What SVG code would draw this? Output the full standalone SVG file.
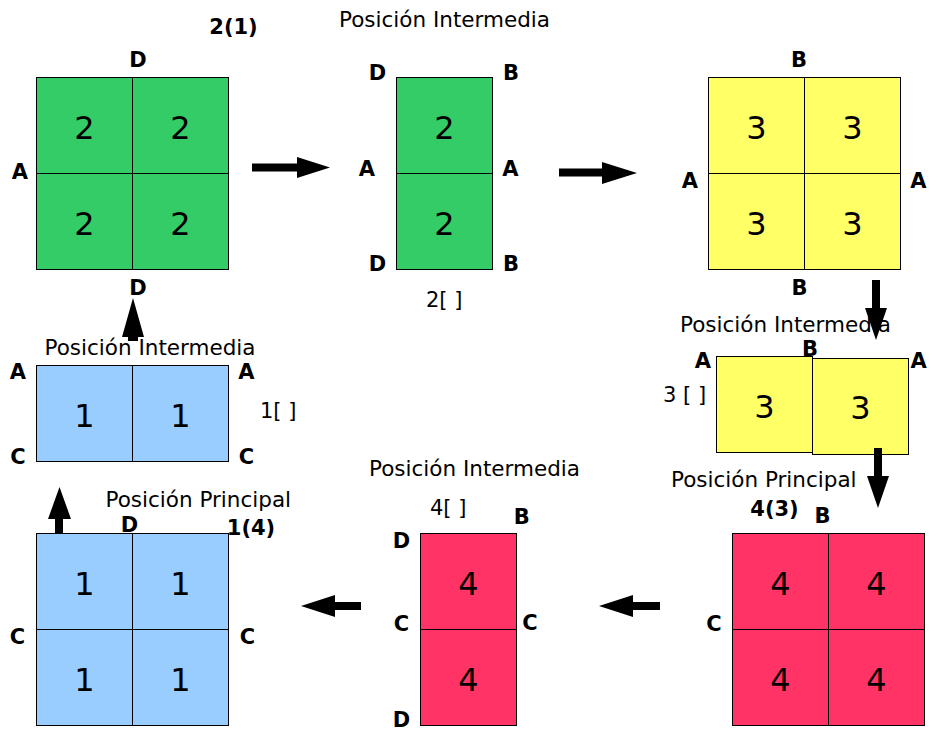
<svg xmlns="http://www.w3.org/2000/svg" width="939" height="740" viewBox="0 0 939 740">
<style>
text{font-family:"DejaVu Sans","Liberation Sans",sans-serif;fill:#000}
.b{font-weight:bold;font-size:21px;text-anchor:middle}
.l{font-size:21.5px}
.s{font-size:21px}
.d{font-size:32px;text-anchor:middle}
rect,line{stroke:#000;stroke-width:1}
.g{fill:#33CC66}.y{fill:#FFFF66}.r{fill:#FF3366}.u{fill:#99CCFF}
.a{fill:#000;stroke:none}
</style>
<rect width="939" height="740" fill="#fff" style="stroke:none"/>
<g id="n2">
<rect class="g" x="36.5" y="77.5" width="192" height="192"/>
<line x1="132.5" y1="77.5" x2="132.5" y2="269.5"/><line x1="36.5" y1="173.5" x2="228.5" y2="173.5"/>
<text class="d" x="84.5" y="138.5">2</text><text class="d" x="180.5" y="138.5">2</text>
<text class="d" x="84.5" y="234.5">2</text><text class="d" x="180.5" y="234.5">2</text>
<text class="b" x="233.5" y="33.5">2(1)</text>
<text class="b" x="138" y="67">D</text>
<text class="b" x="20" y="179">A</text>
<text class="b" x="138" y="295">D</text>
</g>
<g id="n2i">
<rect class="g" x="396.5" y="77.5" width="96" height="192"/>
<line x1="396.5" y1="173.5" x2="492.5" y2="173.5"/>
<text class="d" x="444.5" y="138.5">2</text><text class="d" x="444.5" y="234.5">2</text>
<text class="l" x="339" y="27">Posición Intermedia</text>
<text class="b" x="377.5" y="80">D</text><text class="b" x="511" y="80">B</text>
<text class="b" x="367" y="176">A</text><text class="b" x="510.5" y="176">A</text>
<text class="b" x="377.5" y="271">D</text><text class="b" x="511" y="271">B</text>
<text class="s" x="426" y="307">2[ ]</text>
</g>
<g id="n3">
<rect class="y" x="708.5" y="77.5" width="192" height="192"/>
<line x1="804.5" y1="77.5" x2="804.5" y2="269.5"/><line x1="708.5" y1="173.5" x2="900.5" y2="173.5"/>
<text class="d" x="756.5" y="138.5">3</text><text class="d" x="852.5" y="138.5">3</text>
<text class="d" x="756.5" y="234.5">3</text><text class="d" x="852.5" y="234.5">3</text>
<text class="b" x="799" y="67">B</text>
<text class="b" x="690" y="188">A</text><text class="b" x="918.5" y="188">A</text>
<text class="b" x="799.5" y="295">B</text>
</g>
<g id="n3i">
<rect class="y" x="716.5" y="356.5" width="96" height="96"/>
<rect class="y" x="812.5" y="358.5" width="96" height="96"/>
<text class="d" x="764.5" y="417.5">3</text><text class="d" x="860.5" y="418.5">3</text>
<text class="l" x="680" y="331.5">Posición Intermedia</text>
<text class="b" x="810" y="356">B</text>
<text class="b" x="703" y="368">A</text><text class="b" x="918.7" y="368">A</text>
<text class="s" x="663" y="402">3 [ ]</text>
</g>
<g id="n4">
<rect class="r" x="732.5" y="533.5" width="192" height="192"/>
<line x1="828.5" y1="533.5" x2="828.5" y2="725.5"/><line x1="732.5" y1="629.5" x2="924.5" y2="629.5"/>
<text class="d" x="780.5" y="594.5">4</text><text class="d" x="876.5" y="594.5">4</text>
<text class="d" x="780.5" y="690.5">4</text><text class="d" x="876.5" y="690.5">4</text>
<text class="l" x="671" y="487">Posición Principal</text>
<text class="b" x="774.5" y="516">4(3)</text>
<text class="b" x="822.5" y="523">B</text>
<text class="b" x="714" y="631">C</text>
</g>
<g id="n4i">
<rect class="r" x="420.5" y="533.5" width="96" height="192"/>
<line x1="420.5" y1="629.5" x2="516.5" y2="629.5"/>
<text class="d" x="468.5" y="594.5">4</text><text class="d" x="468.5" y="690.5">4</text>
<text class="l" x="369" y="476">Posición Intermedia</text>
<text class="s" x="430" y="515">4[ ]</text>
<text class="b" x="521.7" y="524">B</text>
<text class="b" x="401.5" y="548">D</text>
<text class="b" x="401.5" y="631">C</text><text class="b" x="530" y="630">C</text>
<text class="b" x="401.5" y="727">D</text>
</g>
<g id="n1">
<rect class="u" x="36.5" y="533.5" width="192" height="192"/>
<line x1="132.5" y1="533.5" x2="132.5" y2="725.5"/><line x1="36.5" y1="629.5" x2="228.5" y2="629.5"/>
<text class="d" x="84.5" y="594.5">1</text><text class="d" x="180.5" y="594.5">1</text>
<text class="d" x="84.5" y="690.5">1</text><text class="d" x="180.5" y="690.5">1</text>
<text class="l" x="105.5" y="507">Posición Principal</text>
<text class="b" x="129.5" y="532">D</text>
<text class="b" x="251" y="535">1(4)</text>
<text class="b" x="17.5" y="644">C</text><text class="b" x="247.5" y="644">C</text>
</g>
<g id="n1i">
<rect class="u" x="36.5" y="365.5" width="192" height="96"/>
<line x1="132.5" y1="365.5" x2="132.5" y2="461.5"/>
<text class="d" x="84.5" y="426.5">1</text><text class="d" x="180.5" y="426.5">1</text>
<text class="l" x="44.5" y="355">Posición Intermedia</text>
<text class="b" x="18" y="379">A</text><text class="b" x="246.5" y="379">A</text>
<text class="s" x="260" y="418">1[ ]</text>
<text class="b" x="18" y="464">C</text><text class="b" x="246.5" y="464">C</text>
</g>
<g id="connectors">
<polygon class="a" points="252,163.5 297,163.5 297,157 330,167.5 297,178 297,171.5 252,171.5"/>
<polygon class="a" points="559,168.5 602,168.5 602,162 637,173 602,184 602,176.5 559,176.5"/>
<polygon class="a" points="872,280 880,280 880,308 887,308 876,340 865,308 872,308"/>
<polygon class="a" points="874,448 882,448 882,476 889,476 878,508 867,476 874,476"/>
<polygon class="a" points="660,602 633,602 633,595 599,606 633,617 633,610 660,610"/>
<polygon class="a" points="361,602 335,602 335,595 301,606 335,617 335,610 361,610"/>
<polygon class="a" points="55,533 55,519 48,519 59.5,487 71,519 63,519 63,533"/>
<polygon class="a" points="128,341 128,337 122,337 133,298 144,337 138,337 138,341"/>
</g>
</svg>
